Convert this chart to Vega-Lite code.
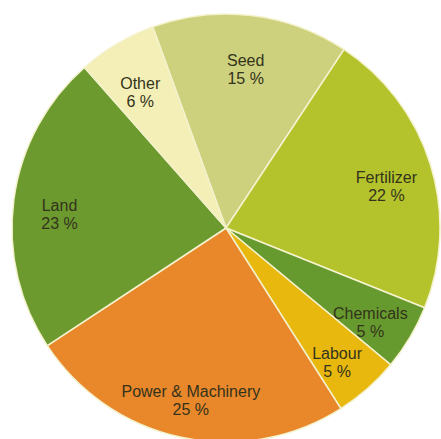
{
  "$schema": "https://vega.github.io/schema/vega-lite/v6.json",
  "width": 430,
  "height": 422,
  "padding": {"left": 11, "top": 17, "right": 0, "bottom": 0},
  "autosize": "none",
  "background": "white",
  "data": {
    "values": [
      {"cat": "Seed", "value": 15, "ord": 1},
      {"cat": "Fertilizer", "value": 22, "ord": 2},
      {"cat": "Chemicals", "value": 5, "ord": 3},
      {"cat": "Labour", "value": 5, "ord": 4},
      {"cat": "Power & Machinery", "value": 25, "ord": 5},
      {"cat": "Land", "value": 23, "ord": 6},
      {"cat": "Other", "value": 6, "ord": 7}
    ]
  },
  "transform": [
    {"calculate": "datum.cat + '\\n' + datum.value + ' %'", "as": "txt"}
  ],
  "encoding": {
    "theta": {"field": "value", "type": "quantitative", "stack": true,
      "scale": {"range": [-0.349, 5.934]}},
    "order": {"field": "ord", "type": "quantitative"},
    "color": {"field": "cat", "type": "nominal", "legend": null,
      "scale": {
        "domain": ["Seed", "Fertilizer", "Chemicals", "Labour", "Power & Machinery", "Land", "Other"],
        "range": ["#cdd07c", "#b4c32c", "#679a2e", "#e9b80f", "#e9872b", "#6c9a2f", "#f3efb6"]
      }}
  },
  "layer": [
    {"mark": {"type": "arc", "outerRadius": 214, "stroke": "#f4f2cc", "strokeWidth": 1.5}},
    {"mark": {"type": "text", "radius": 168, "font": "Liberation Sans", "fontSize": 16, "lineBreak": "\n", "lineHeight": 18},
     "encoding": {"text": {"field": "txt"}, "color": {"value": "#33331c"}}}
  ]
}
